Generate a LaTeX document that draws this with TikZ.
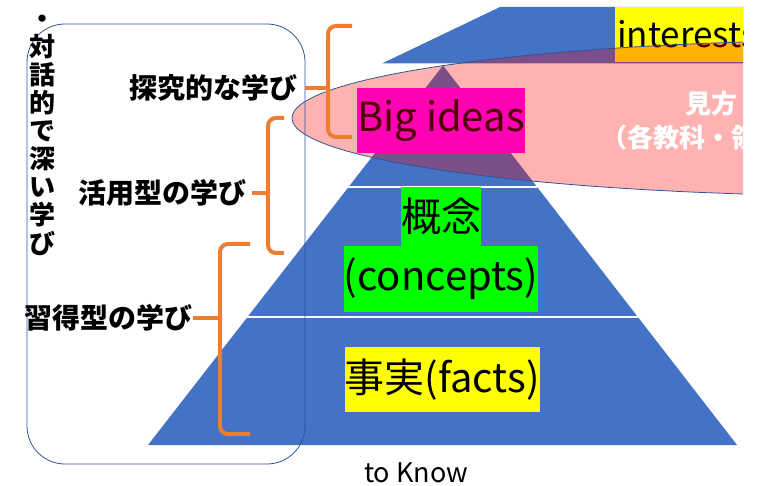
\documentclass[tikz,border=0pt]{standalone}
\usepackage{fontspec}
\setmainfont{Noto Sans CJK JP}
\definecolor{pyrblue}{HTML}{4472C4}
\definecolor{lineblue}{HTML}{2F5597}
\definecolor{braceorange}{HTML}{ED7D31}
\definecolor{boxgreen}{HTML}{00FF00}
\definecolor{boxyellow}{HTML}{FFFF00}
\definecolor{boxmagenta}{HTML}{FF00FF}
\begin{document}
\begin{tikzpicture}[x=1pt,y=-1pt,
  pyr/.style={fill=pyrblue, draw=none},
  sepline/.style={draw=white, line width=1.3pt},
  bracepath/.style={draw=braceorange, line width=4pt, rounded corners=8pt},
  bracetip/.style={draw=braceorange, line width=4pt},
  lbl/.style={font=\bfseries\fontsize{28}{30}\selectfont, inner sep=0pt, anchor=east},
  bigtxt/.style={font=\fontsize{40}{44}\selectfont, inner sep=0pt, text=black},
  whitetxt/.style={font=\bfseries\fontsize{26}{28}\selectfont, text=white, inner sep=0pt, anchor=west}]
\useasboundingbox (0,0) rectangle (765,486);
\begin{scope}
\clip (0,0) rectangle (743,486);
% top band
\fill[pyr] (500,7) -- (760,7) -- (760,63.5) -- (382,63.5) -- cycle;
% pyramid
\fill[pyr] (443,65.5) -- (737,445) -- (148,445) -- cycle;
\draw[sepline] (348.3,187) -- (537.4,187);
\draw[sepline] (247.4,317) -- (638.0,317);
% boxes
\node[bigtxt, fill=boxgreen, minimum width=76, minimum height=59] (gainen) at (441,216.5) {概念};
\node[bigtxt, fill=boxgreen, minimum width=190, minimum height=66] (concepts) at (441,279) {(concepts)};
\node[bigtxt, fill=boxyellow, minimum width=194, minimum height=65] (facts) at (442,379.5) {事実(facts)};
\node[bigtxt, fill=boxmagenta, minimum width=162, minimum height=65] (big) at (441,120.5) {Big ideas};
\node[font=\fontsize{35}{40}\selectfont, fill=boxyellow, inner sep=0pt, text=black, anchor=west, minimum height=55, text width=150] (interests) at (615,34.5) {\hspace{2pt}interests};
% ellipse overlay
\draw[draw=lineblue, line width=0.8pt, fill=red, fill opacity=0.3] (876,118) ellipse [x radius=584pt, y radius=78pt];
\node[whitetxt] (mikata) at (685,104) {見方};
\node[whitetxt] (kaku) at (601,138) {（各教科・領};
\end{scope}
% frame
\node[draw=lineblue, line width=0.8pt, rounded corners=38pt, minimum width=278, minimum height=440, inner sep=0pt] (frame) at (166,244) {};
% vertical text
\node[font=\bfseries\fontsize{26}{28.1}\selectfont, align=center, inner sep=0pt] (taiwa) at (42,135) {・\\対\\話\\的\\で\\深\\い\\学\\び};
% labels
\node[lbl] (tankyu) at (298,88) {探究的な学び};
\node[lbl] (katsuyo) at (247,193) {活用型の学び};
\node[lbl] (shutoku) at (193,318) {習得型の学び};
% braces
\coordinate (b1tip) at (305,88);
\coordinate (b2tip) at (252,193);
\coordinate (b3tip) at (193,318);
\draw[bracepath] (352,26) -- (328,26) -- (328,137) -- (352,137);
\draw[bracetip] (b1tip) -- (328,88);
\draw[bracepath] (284,118) -- (268,118) -- (268,253) -- (284,253);
\draw[bracetip] (b2tip) -- (268,193);
\draw[bracepath] (250,244) -- (220,244) -- (220,434) -- (250,434);
\draw[bracetip] (b3tip) -- (220,318);
% to Know
\node[font=\fontsize{27}{30}\selectfont, inner sep=0pt] (toknow) at (416,473) {to Know};
\end{tikzpicture}
\end{document}
